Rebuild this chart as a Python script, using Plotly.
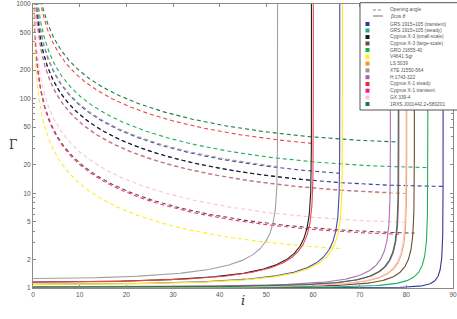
import numpy as np
import plotly.graph_objects as go

# ---------------- data ----------------
sources = [
    "GRS 1915+105 (transient)", "GRS 1915+105 (steady)", "Cygnus X-3 (small-scale)",
    "Cygnus X-3 (large-scale)", "GRO J1655-40", "V4641 Sgr", "LS 5039",
    "XTE J1550-564", "H 1743-322", "Cygnus X-1 steady", "Cygnus X-1 transient",
    "GX 339-4", "1RXS J001442.2+580201",
]
# measured beta*cos(i) for each source (sets the vertical asymptote of the solid curve)
beta_cos_i = [0.411, 0.037, 0.505, 0.144, 0.094, 0.402, 0.172, 0.610, 0.232, 0.499, 0.201, 0.175, 0.203]
# opening-angle constraint: Gamma*beta*sin(i) (dashed curves)
opening_limit = [14.8, 11.8, 11.8, 3.63, 18.6, 2.2, 9.75, 15.2, 9.85, 29.1, 3.49, 4.76, 34.1]

line_colors = ["#4a4aa6", "#35359a", "#222222", "#6e4d2e", "#22b05a", "#ffec1a", "#f5a04a",
               "#a0a0a0", "#b070b8", "#ee4444", "#ee3390", "#f7c4d2", "#1f7d45"]
swatch_colors = ["#35359a", "#1fa88a", "#1a1a1a", "#6e4d2e", "#19b04a", "#fff200", "#f7941d",
                 "#9a9a9a", "#a860a8", "#ee2b2b", "#ec1a8c", "#f9c9d6", "#1a7a3e"]

x_ticks = [0, 10, 20, 30, 40, 50, 60, 70, 80, 90]
y_ticks = [1, 2, 5, 10, 20, 50, 100, 200, 500, 1000]
y_minor = [m * 10 ** e for e in range(3) for m in (3, 4, 6, 7, 8, 9)]

fig = go.Figure()

# dashed: opening angle constraint
for k, c, col in zip(beta_cos_i, opening_limit, line_colors):
    ia = np.degrees(np.arccos(k))
    i0 = np.degrees(np.arcsin(min(c / 3000.0, 1)))
    ii = np.geomspace(i0, ia, 400)
    g = np.sqrt(1 + (c / np.sin(np.radians(ii))) ** 2)
    fig.add_trace(go.Scatter(x=ii, y=g, mode="lines", showlegend=False, hoverinfo="skip",
                             line=dict(color=col, width=1.1, dash="4px,3px")))

# solid: beta cos i constraint
for k, col in zip(beta_cos_i, line_colors):
    ia = np.degrees(np.arccos(k))
    ii = np.concatenate([np.linspace(0, ia * 0.9, 200), ia - np.geomspace(ia * 0.1, 1e-7, 400)])
    arg = 1 - (k / np.cos(np.radians(ii))) ** 2
    g = 1 / np.sqrt(np.clip(arg, 1e-12, None))
    fig.add_trace(go.Scatter(x=ii, y=np.minimum(g, 1e5), mode="lines", showlegend=False,
                             hoverinfo="skip", line=dict(color=col, width=1.1)))

# ---------------- layout ----------------
L, R, T, B = 33, 453, 4, 288
W, H = 457, 319


def px(x):
    return (x - L) / (R - L)


def py(y):
    return (B - y) / (B - T)


axis_common = dict(showgrid=False, zeroline=False, showline=True, linecolor="#8a8a8a",
                   linewidth=1, mirror="ticks", ticks="inside", ticklen=3, tickcolor="#8a8a8a",
                   automargin=False,
                   tickfont=dict(family="Liberation Sans", size=6.5, color="#555555"))

fig.update_layout(
    width=W, height=H, margin=dict(l=L, r=W - R, t=T, b=H - B),
    paper_bgcolor="white", plot_bgcolor="white", showlegend=False,
    xaxis=dict(range=[0, 90], tickvals=x_ticks, ticktext=[str(v) for v in x_ticks], **axis_common),
    yaxis=dict(type="log", range=[0, 3], tickvals=y_ticks, ticktext=[str(v) for v in y_ticks],
               minor=dict(tickmode="array", tickvals=y_minor, ticks="inside", ticklen=2,
                          tickcolor="#8a8a8a"), **axis_common),
)

shapes = []
annotations = []
# axis titles
annotations.append(dict(x=px(7), y=py(145), xref="paper", yref="paper", text="Γ", showarrow=False,
                        font=dict(family="DejaVu Serif", size=12, color="#333333")))
annotations.append(dict(x=px(243), y=py(310), xref="paper", yref="paper", text="<i>i</i>",
                        showarrow=False, font=dict(family="DejaVu Serif", size=13, color="#333333")))

# legend box
shapes.append(dict(type="rect", xref="paper", yref="paper", x0=px(360), x1=px(460), y0=py(110),
                   y1=py(2.7), line=dict(color="#555555", width=1), fillcolor="white", layer="above"))
leg_font = dict(family="Liberation Sans", size=4.8, color="#555555")
tx = 388
# line entries
shapes.append(dict(type="line", xref="paper", yref="paper", x0=px(373), x1=px(383), y0=py(10), y1=py(10),
                   line=dict(color="#8a8a8a", width=1.2, dash="3px,2px"), layer="above"))
annotations.append(dict(x=px(tx), y=py(10), xref="paper", yref="paper", xanchor="left", yanchor="middle",
                        text="Opening angle", showarrow=False, font=leg_font))
shapes.append(dict(type="line", xref="paper", yref="paper", x0=px(373), x1=px(383), y0=py(16), y1=py(16),
                   line=dict(color="#8a8a8a", width=1.2), layer="above"))
annotations.append(dict(x=px(tx), y=py(16), xref="paper", yref="paper", xanchor="left", yanchor="middle",
                        text="<i>β</i>cos <i>θ</i>", showarrow=False, font=leg_font))
row_y = [24, 30.5, 37, 43.5, 50, 56.8, 63.6, 70.4, 77.2, 84, 90.7, 97.4, 104]
for name, col, yy in zip(sources, swatch_colors, row_y):
    shapes.append(dict(type="rect", xref="paper", yref="paper", x0=px(365.5), x1=px(369.5),
                       y0=py(yy + 2), y1=py(yy - 2), line=dict(width=0), fillcolor=col, layer="above"))
    annotations.append(dict(x=px(tx), y=py(yy), xref="paper", yref="paper", xanchor="left",
                            yanchor="middle", text=name, showarrow=False, font=leg_font))

fig.update_layout(shapes=shapes, annotations=annotations)
fig.write_html("out.html", config={"displayModeBar": False},
               post_script="document.body.style.margin='0';")
